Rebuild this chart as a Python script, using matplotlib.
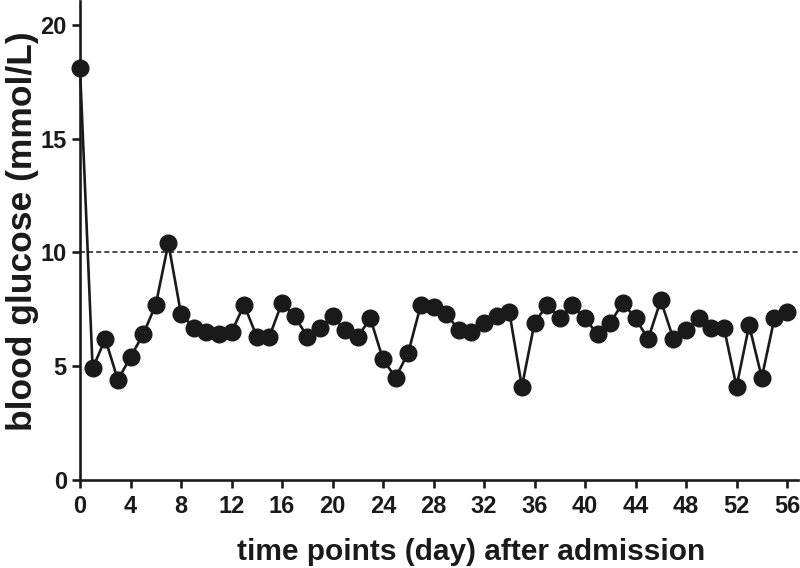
import matplotlib
matplotlib.use("Agg")
import matplotlib.pyplot as plt

# blood glucose per day after admission (mmol/L)
days = list(range(0, 57))
glucose = [18.1, 4.9, 6.2, 4.4, 5.4, 6.4, 7.7, 10.4, 7.3, 6.7,
           6.5, 6.4, 6.5, 7.7, 6.3, 6.3, 7.8, 7.2, 6.3, 6.7,
           7.2, 6.6, 6.3, 7.1, 5.3, 4.5, 5.6, 7.7, 7.6, 7.3,
           6.6, 6.5, 6.9, 7.2, 7.4, 4.1, 6.9, 7.7, 7.1, 7.7,
           7.1, 6.4, 6.9, 7.8, 7.1, 6.2, 7.9, 6.2, 6.6, 7.1,
           6.7, 6.7, 4.1, 6.8, 4.5, 7.1, 7.4]
threshold = 10
x_ticks = list(range(0, 57, 4))
y_ticks = [0, 5, 10, 15, 20]

plt.rcParams['font.family'] = ['Liberation Sans', 'DejaVu Sans']
plt.rcParams['font.weight'] = 'bold'

ink = '#1a1a1a'

fig = plt.figure(figsize=(8, 5.68), dpi=100)
ax = fig.add_axes([0.1, 0.155, 0.8975, 0.843])

ax.axhline(threshold, color=ink, linestyle=(0, (3.3, 2.0)), linewidth=1.1, zorder=1)
ax.plot(days, glucose, color=ink, linewidth=1.9, marker='o',
        markersize=12, markerfacecolor=ink, markeredgecolor=ink,
        clip_on=False, zorder=3)

ax.set_xlim(0, 56.87)
ax.set_ylim(0, 21.05)
ax.set_xticks(x_ticks)
ax.set_yticks(y_ticks)

for side in ['top', 'right']:
    ax.spines[side].set_visible(False)
for side in ['left', 'bottom']:
    ax.spines[side].set_linewidth(1.9)
    ax.spines[side].set_color(ink)

ax.tick_params(axis='both', direction='out', length=6, width=1.9,
               color=ink, labelcolor=ink, labelsize=17)
ax.tick_params(axis='x', pad=5)
for lbl in ax.get_xticklabels() + ax.get_yticklabels():
    lbl.set_fontweight('bold')

ax.set_xlabel('time points (day) after admission', fontsize=21.5,
              fontweight='bold', color=ink, labelpad=14, x=0.545)
ax.set_ylabel('blood glucose (mmol/L)', fontsize=25.5,
              fontweight='bold', color=ink, labelpad=1, y=0.52)

fig.savefig('out.png', dpi=100)
